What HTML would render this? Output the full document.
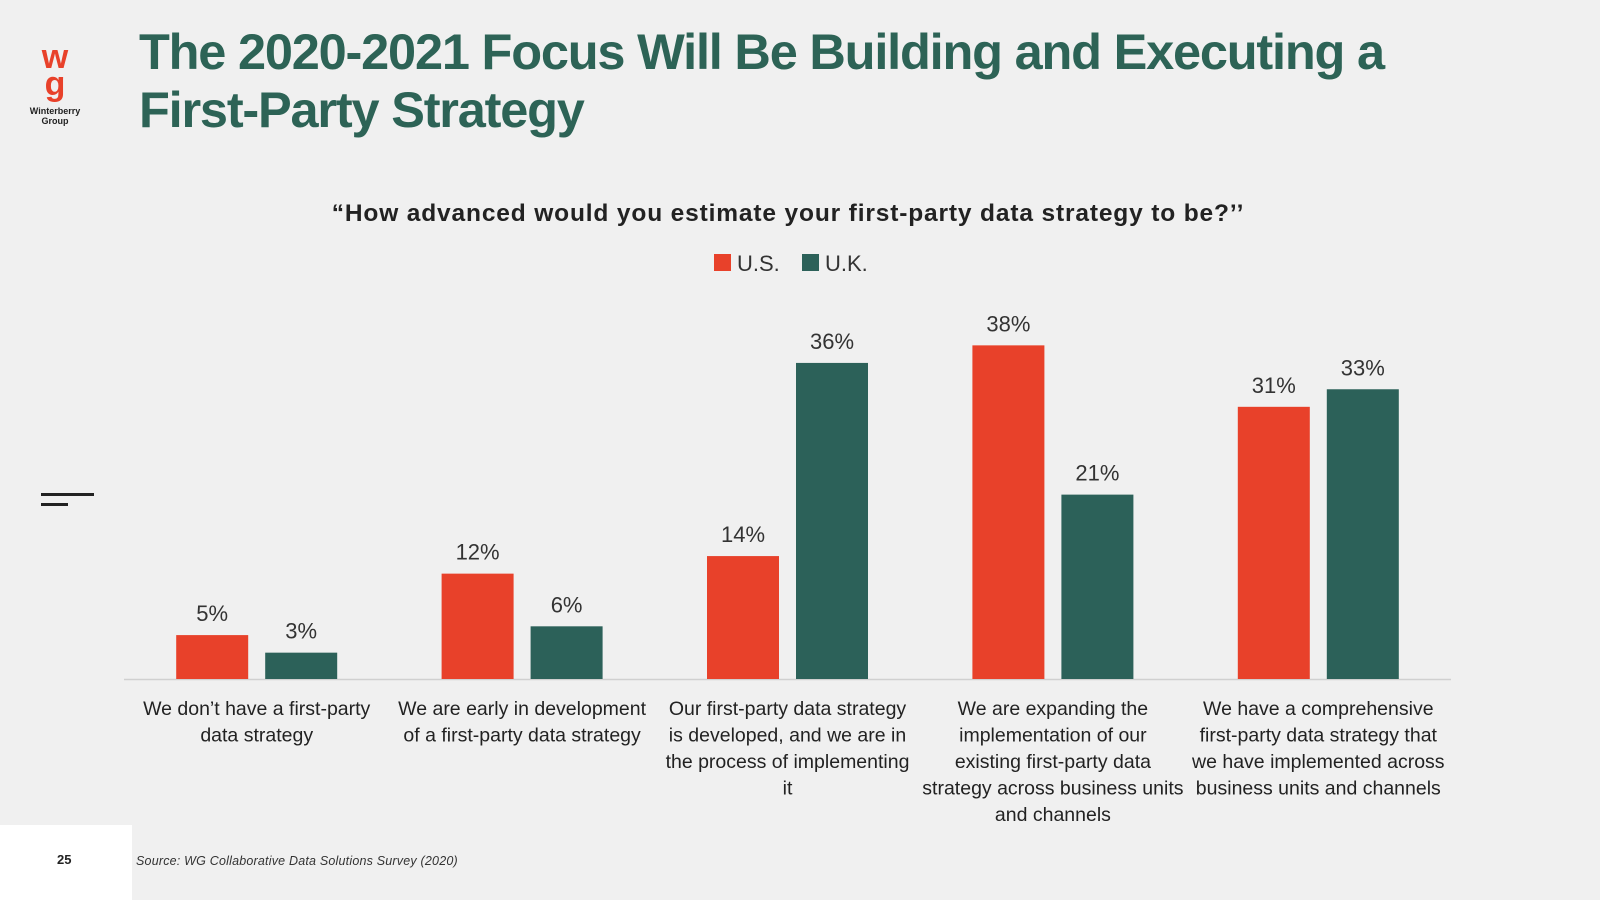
<!DOCTYPE html>
<html><head><meta charset="utf-8"><style>
body{margin:0;width:1600px;height:900px;background:#f0f0f0;position:relative;overflow:hidden;font-family:"Liberation Sans",sans-serif}
.abs{position:absolute}
</style></head><body>
<div class="abs" style="left:20px;top:44px;width:70px;text-align:center">
<div style="color:#e8412a;font-weight:bold;font-size:34px;line-height:27px;font-family:'Liberation Sans',sans-serif">w<br>g</div>
<div style="font-size:9px;font-weight:bold;color:#222;line-height:10px;margin-top:8px">Winterberry<br>Group</div>
</div>
<div class="abs" style="left:139px;top:23px;font-size:50.5px;font-weight:bold;color:#2d6356;line-height:58px;letter-spacing:-1.2px">The 2020-2021 Focus Will Be Building and Executing a<br>First-Party Strategy</div>
<div class="abs" style="left:41px;top:493px;width:53px;height:3px;background:#222"></div>
<div class="abs" style="left:41px;top:503px;width:27px;height:3px;background:#222"></div>
<div class="abs" style="left:0;top:825px;width:132px;height:75px;background:#fff"></div>
<div class="abs" style="left:57px;top:852px;font-size:13px;font-weight:bold;color:#222">25</div>
<div class="abs" style="left:136px;top:854px;font-size:12.5px;font-style:italic;color:#333;letter-spacing:0.2px">Source: WG Collaborative Data Solutions Survey (2020)</div>
<svg class="abs" style="left:0;top:0" width="1600" height="900">
<text x="788" y="221" text-anchor="middle" font-size="24.5" font-weight="bold" fill="#222" letter-spacing="0.85">“How advanced would you estimate your first-party data strategy to be?’’</text>
<g>
<rect x="714" y="254" width="17" height="17" fill="#e8412a"/>
<text x="737" y="271" font-size="22" fill="#333">U.S.</text>
<rect x="802" y="254" width="17" height="17" fill="#2c6159"/>
<text x="825" y="271" font-size="22" fill="#333">U.K.</text>
</g>
<line x1="124" y1="679.5" x2="1451" y2="679.5" stroke="#d0d0d0" stroke-width="1.5"/>
<g id="bars"></g>
</svg>
<script>
const categories=[["We don’t have a first-party","data strategy"],["We are early in development","of a first-party data strategy"],["Our first-party data strategy","is developed, and we are in","the process of implementing","it"],["We are expanding the","implementation of our","existing first-party data","strategy across business units","and channels"],["We have a comprehensive","first-party data strategy that","we have implemented across","business units and channels"]];
const usValues=[5,12,14,38,31];
const ukValues=[3,6,36,21,33];
const valueLabelsUS=["5%","12%","14%","38%","31%"];
const valueLabelsUK=["3%","6%","36%","21%","33%"];
const x0=124,x1=1451,base=679,ppu=8.78;
const bw=(x1-x0)/categories.length;
const xCenter=i=>x0+bw*(i+0.5);
const y=v=>base-v*ppu;
const g=document.getElementById('bars');
const NS='http://www.w3.org/2000/svg';
function mk(tag,attrs,txt){const e=document.createElementNS(NS,tag);for(const k in attrs)e.setAttribute(k,attrs[k]);if(txt!==undefined)e.textContent=txt;g.appendChild(e);return e;}
categories.forEach((c,i)=>{
 [[usValues,valueLabelsUS,'#e8412a',-44.5,'us'],[ukValues,valueLabelsUK,'#2c6159',44.5,'uk']].forEach(([vals,labs,col,off,s])=>{
  const cx=xCenter(i)+off,v=vals[i];
  const r=mk('rect',{x:cx-36,y:y(v),width:72,height:base-y(v),fill:col});
  
  
  const t=mk('text',{x:cx,y:y(v)-14,'text-anchor':'middle','font-size':22,fill:'#333'},labs[i]);
  
  
 });
 const t=mk('text',{x:xCenter(i),y:715,'text-anchor':'middle','font-size':19.5,fill:'#222'});
 
 
 c.forEach((ln,j)=>{const ts=document.createElementNS(NS,'tspan');ts.setAttribute('x',xCenter(i));ts.setAttribute('dy',j?26.5:0);ts.textContent=ln;t.appendChild(ts);});
});
</script>
</body></html>
